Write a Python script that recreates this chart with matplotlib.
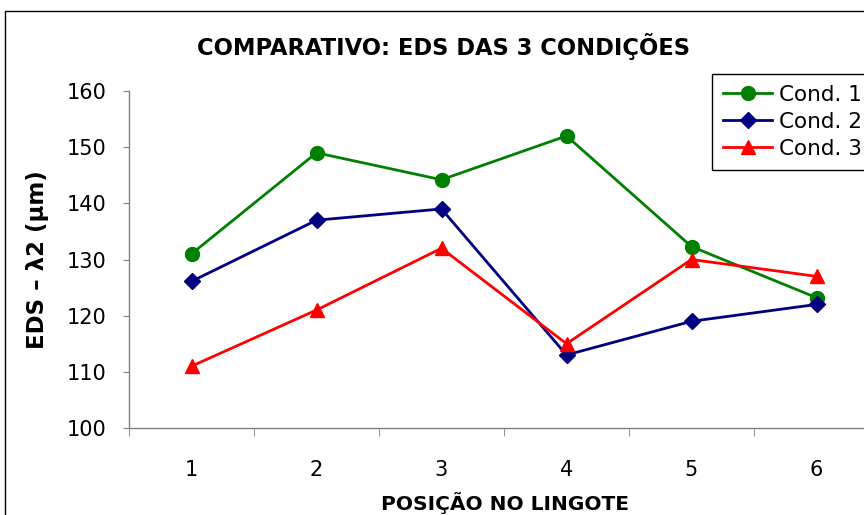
import matplotlib.pyplot as plt
import matplotlib.patches as mpatches
from matplotlib.ticker import FixedLocator

plt.rcParams['font.family'] = ['DejaVu Sans']

# data
posicao = [1, 2, 3, 4, 5, 6]
cond1 = [131, 149, 144.2, 152, 132.3, 123.2]
cond2 = [126.1, 137, 139, 113, 119, 122]
cond3 = [111, 121, 132, 115, 130, 127]

fig = plt.figure(figsize=(8.64, 5.15), dpi=100)
ax = fig.add_axes([129/864, 87/515, 750/864, 337/515])

ax.plot(posicao, cond1, color='#008000', marker='o', markersize=10, lw=2, label='Cond. 1')
ax.plot(posicao, cond2, color='#000080', marker='D', markersize=8.5, lw=2, label='Cond. 2')
ax.plot(posicao, cond3, color='#FF0000', marker='^', markersize=10.5, lw=2, label='Cond. 3')

ax.set_xlim(0.5, 6.5)
ax.set_ylim(100, 160)
ax.set_yticks(range(100, 161, 10))
ax.set_xticks(posicao)
ax.xaxis.set_minor_locator(FixedLocator([0.5, 1.5, 2.5, 3.5, 4.5, 5.5, 6.5]))
ax.tick_params(axis='x', which='major', length=0, pad=23, labelsize=15)
ax.tick_params(axis='x', which='minor', length=6, color='#808080', direction='out')
ax.tick_params(axis='y', length=4, color='#808080', direction='out', labelsize=15, pad=12)

for s in ['top', 'right']:
    ax.spines[s].set_visible(False)
for s in ['left', 'bottom']:
    ax.spines[s].set_color('#808080')
    ax.spines[s].set_linewidth(1.0)

fig.text(444/864, 1 - 47/515, 'COMPARATIVO: EDS DAS 3 CONDIÇÕES', ha='center', va='center',
         fontsize=16.3, fontweight='bold')
fig.text(505/864, 1 - 503/515, 'POSIÇÃO NO LINGOTE', ha='center', va='center',
         fontsize=14.5, fontweight='bold')
fig.text(38/864, 1 - 260/515, 'EDS – λ2 (µm)', ha='center', va='center', rotation=90,
         fontsize=16.5, fontweight='bold')

leg = fig.legend(loc='upper left', bbox_to_anchor=(712/864, 1 - 74/515), fontsize=15.5,
                 frameon=True, fancybox=False, edgecolor='black', framealpha=1,
                 handlelength=2.3, handletextpad=0.3, borderpad=0.5, labelspacing=0.33,
                 borderaxespad=0)
leg.get_frame().set_linewidth(1.0)

# outer chart frame (cut off at right and bottom)
frame = mpatches.Rectangle((5/864, -0.1), 1.0, 1 - 11/515 + 0.1, transform=fig.transFigure,
                           fill=False, edgecolor='black', lw=1.0)
fig.patches.append(frame)

fig.savefig('out.png', dpi=100)
